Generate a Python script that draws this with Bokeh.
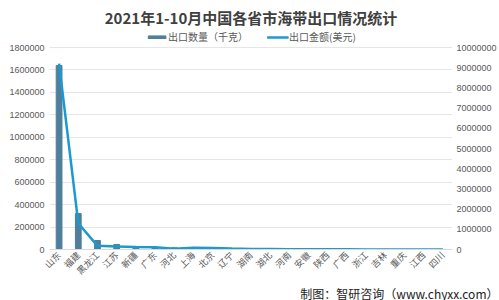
import math
from bokeh.plotting import figure
from bokeh.models import (ColumnDataSource, LinearAxis, Range1d, FactorRange, Legend,
                          LegendItem, Title, NumeralTickFormatter, FixedTicker)
from bokeh.embed import file_html
from bokeh.resources import INLINE

provinces = ["山东", "福建", "黑龙江", "江苏", "新疆", "广东", "河北", "上海", "北京", "辽宁",
             "湖南", "湖北", "河南", "安徽", "陕西", "广西", "浙江", "吉林", "重庆", "江西", "四川"]
quantity_kg = [1640000, 320000, 80000, 45000, 22000, 20000, 15000, 8000, 5000, 4000,
               3000, 2500, 2000, 1500, 1200, 1000, 800, 600, 400, 300, 200]
value_usd = [9200000, 1300000, 180000, 150000, 120000, 110000, 40000, 90000, 80000, 50000,
             30000, 25000, 15000, 12000, 10000, 8000, 6000, 5000, 4000, 3000, 2000]
left_ticks = list(range(0, 1800001, 200000))
right_ticks = list(range(0, 10000001, 1000000))

title_text = "2021年1-10月中国各省市海带出口情况统计"
bar_label = "出口数量（千克）"
line_label = "出口金额(美元)"
source_text = "制图：智研咨询（www.chyxx.com）"

CJK = "Noto Sans CJK SC"
BAR_COLOR = "#4F7F9C"
LINE_COLOR = "#1C9AD0"
TICK_COLOR = "#595959"

# frame spans y=28..249 px; 1.8M / 10M sit at y=47
EXT = 221 / 202

src = ColumnDataSource(dict(prov=provinces, q=quantity_kg, v=value_usd))

p = figure(width=499, height=300, x_range=FactorRange(*provinces, range_padding=0),
           y_range=Range1d(0, 1800000 * EXT), output_backend="svg", toolbar_location=None,
           min_border_left=49, min_border_right=45, min_border_top=28, min_border_bottom=51)
p.extra_y_ranges = {"val": Range1d(0, 10000000 * EXT)}

bars = p.vbar(x="prov", top="q", width=0.3, source=src, color=BAR_COLOR)
line = p.line(x="prov", y="v", source=src, y_range_name="val", color=LINE_COLOR, line_width=2.5)

p.xgrid.grid_line_color = None
p.ygrid.grid_line_color = "#E6E6E6"
p.ygrid.ticker = FixedTicker(ticks=left_ticks)
p.outline_line_color = None

ax = p.yaxis[0]
ax.ticker = FixedTicker(ticks=left_ticks)
ax.formatter = NumeralTickFormatter(format="0")
ax.axis_line_color = None
ax.major_tick_line_color = None
ax.major_tick_out = 0
ax.minor_tick_line_color = None
ax.major_label_text_font_size = "9px"
ax.major_label_text_color = TICK_COLOR
ax.major_label_text_font = "Liberation Sans"

rax = LinearAxis(y_range_name="val", ticker=FixedTicker(ticks=right_ticks),
                 formatter=NumeralTickFormatter(format="0"))
rax.axis_line_color = None
rax.major_tick_line_color = None
rax.major_tick_out = 0
rax.minor_tick_line_color = None
rax.major_label_standoff = 4
rax.major_label_text_font_size = "9px"
rax.major_label_text_color = TICK_COLOR
rax.major_label_text_font = "Liberation Sans"
p.add_layout(rax, "right")

xax = p.xaxis[0]
xax.axis_line_color = "#D9D9D9"
xax.major_tick_line_color = None
xax.major_tick_out = 0
xax.minor_tick_line_color = None
xax.major_label_orientation = math.pi / 4
xax.major_label_text_font_size = "9px"
xax.major_label_text_color = TICK_COLOR
xax.major_label_text_font = CJK
xax.major_label_standoff = 4

legend = Legend(items=[LegendItem(label=bar_label, renderers=[bars]),
                       LegendItem(label=line_label, renderers=[line])],
                orientation="horizontal", location="top_center", border_line_color=None,
                label_text_font=CJK, label_text_font_size="10px", label_text_color=TICK_COLOR,
                glyph_width=22, glyph_height=4, spacing=18, padding=0, margin=1,
                label_standoff=1, background_fill_alpha=0, label_height=12)
p.add_layout(legend, "center")

t = Title(text=title_text, align="center", text_font=CJK, text_font_size="15px",
          text_font_style="bold", text_color="#404040", standoff=2)
p.add_layout(t, "above")

foot = Title(text=source_text, align="right", text_font=CJK, text_font_size="12px",
             text_font_style="normal", text_color="#222222", offset=-46, standoff=-4)
p.add_layout(foot, "below")

open("out.html", "w").write(file_html(p, INLINE))
